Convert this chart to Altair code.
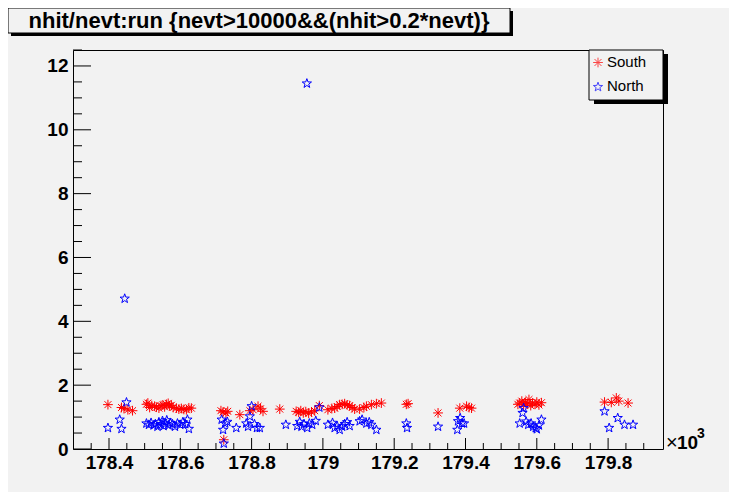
import altair as alt
import pandas as pd

# ---- data (run in units of 10^3, ratio nhit/nevt) ----
south_run = [178.397, 178.435, 178.442, 178.453, 178.466, 178.505, 178.509, 178.514, 178.520, 178.528,
             178.533, 178.540, 178.546, 178.551, 178.556, 178.561, 178.566, 178.570, 178.575, 178.580,
             178.589, 178.596, 178.603, 178.610, 178.617, 178.624, 178.631, 178.714, 178.720, 178.722,
             178.728, 178.733, 178.767, 178.795, 178.804, 178.818, 178.825, 178.832, 178.879, 178.925,
             178.932, 178.938, 178.945, 178.952, 178.960, 178.968, 178.977, 178.990, 179.014, 179.025,
             179.033, 179.040, 179.047, 179.054, 179.061, 179.068, 179.075, 179.082, 179.089, 179.103,
             179.115, 179.122, 179.136, 179.150, 179.164, 179.234, 179.239, 179.323, 179.384, 179.403,
             179.410, 179.417, 179.547, 179.552, 179.558, 179.563, 179.568, 179.573, 179.578, 179.583,
             179.588, 179.595, 179.600, 179.606, 179.613, 179.790, 179.809, 179.823, 179.830, 179.856]
south_ratio = [1.39, 1.30, 1.27, 1.23, 1.20, 1.40, 1.44, 1.30, 1.36, 1.34,
               1.31, 1.28, 1.36, 1.38, 1.32, 1.40, 1.43, 1.35, 1.37, 1.30,
               1.28, 1.25, 1.27, 1.24, 1.23, 1.29, 1.28, 1.20, 1.16, 0.29,
               1.13, 1.18, 1.075, 1.20, 1.23, 1.34, 1.26, 1.18, 1.25, 1.18,
               1.15, 1.20, 1.13, 1.17, 1.12, 1.16, 1.20, 1.36, 1.23, 1.27,
               1.28, 1.33, 1.39, 1.40, 1.42, 1.38, 1.36, 1.30, 1.25, 1.25,
               1.30, 1.34, 1.39, 1.42, 1.44, 1.40, 1.42, 1.13, 1.28, 1.34,
               1.30, 1.28, 1.40, 1.44, 1.50, 1.38, 1.46, 1.42, 1.55, 1.36,
               1.44, 1.40, 1.47, 1.38, 1.45, 1.47, 1.46, 1.60, 1.50, 1.44]

north_run = [178.397, 178.430, 178.435, 178.444, 178.449, 178.505, 178.512, 178.518, 178.525, 178.530,
             178.536, 178.540, 178.545, 178.550, 178.553, 178.558, 178.562, 178.567, 178.572, 178.578,
             178.585, 178.592, 178.600, 178.607, 178.614, 178.620, 178.624, 178.716, 178.720, 178.722,
             178.726, 178.732, 178.757, 178.785, 178.790, 178.795, 178.800, 178.808, 178.815, 178.823,
             178.896, 178.928, 178.935, 178.940, 178.947, 178.955, 178.956, 178.962, 178.970, 178.980,
             178.990, 179.014, 179.027, 179.033, 179.040, 179.047, 179.054, 179.061, 179.068, 179.075,
             179.103, 179.110, 179.122, 179.130, 179.136, 179.150, 179.234, 179.236, 179.323, 179.379,
             179.377, 179.385, 179.390, 179.396, 179.552, 179.560, 179.563, 179.570, 179.576, 179.584,
             179.590, 179.597, 179.600, 179.606, 179.613, 179.790, 179.803, 179.827, 179.846, 179.870]
north_ratio = [0.66, 0.92, 0.63, 4.71, 1.46, 0.80, 0.76, 0.82, 0.74, 0.78,
               0.70, 0.84, 0.76, 0.88, 0.72, 0.80, 0.90, 0.74, 0.82, 0.78,
               0.70, 0.80, 0.76, 0.84, 0.78, 0.92, 0.63, 0.92, 0.60, 0.17,
               0.80, 0.85, 0.66, 0.80, 0.70, 1.02, 1.34, 0.78, 0.66, 0.66,
               0.76, 0.72, 0.85, 0.70, 0.78, 11.45, 0.66, 0.80, 0.76, 0.88,
               1.30, 0.76, 0.82, 0.66, 0.72, 0.60, 0.70, 0.78, 0.84, 0.72,
               0.87, 0.92, 0.80, 0.84, 0.76, 0.60, 0.80, 0.66, 0.70, 0.87,
               0.60, 0.97, 0.80, 0.80, 0.80, 1.13, 1.28, 0.86, 0.76, 0.80,
               0.70, 0.66, 0.62, 0.74, 0.92, 1.18, 0.66, 0.97, 0.76, 0.76]

x_major = [178.4, 178.6, 178.8, 179.0, 179.2, 179.4, 179.6, 179.8]
x_minor = [178.35, 178.45, 178.5, 178.55, 178.65, 178.7, 178.75, 178.85, 178.9, 178.95,
           179.05, 179.1, 179.15, 179.25, 179.3, 179.35, 179.45, 179.5, 179.55,
           179.65, 179.7, 179.75, 179.85, 179.9]
y_major = [0, 2, 4, 6, 8, 10, 12]
y_minor = [0.5, 1, 1.5, 2.5, 3, 3.5, 4.5, 5, 5.5, 6.5, 7, 7.5, 8.5, 9, 9.5, 10.5, 11, 11.5, 12.5]

title_text = "nhit/nevt:run {nevt>10000&&(nhit>0.2*nevt)}"
series_names = ["South", "North"]
series_colors = ["#ff0000", "#0000ff"]

W, H = 590, 399
XDOM = [178.299, 179.954]
YDOM = [0, 12.5]

ASTER = "M-1,0L1,0M0,-1L0,1M-0.71,-0.71L0.71,0.71M-0.71,0.71L0.71,-0.71"
STAR = ("M0,-1L0.235,-0.324L0.951,-0.309L0.380,0.124L0.588,0.809L0,0.4"
        "L-0.588,0.809L-0.380,0.124L-0.951,-0.309L-0.235,-0.324Z")

LABEL_FONT = "Liberation Sans"

south = pd.DataFrame({"run": south_run, "ratio": south_ratio})
north = pd.DataFrame({"run": north_run, "ratio": north_ratio})

xscale = alt.Scale(domain=XDOM, nice=False, zero=False)
yscale = alt.Scale(domain=YDOM, nice=False, zero=False)

xaxis = alt.Axis(values=x_major, format=".4~g", title=None, grid=False, ticks=False, domain=False,
                 labelFont=LABEL_FONT, labelFontWeight="bold", labelFontSize=19, labelColor="black",
                 labelPadding=4, labelFlush=False, labelOverlap=False)
yaxis = alt.Axis(values=y_major, format="d", title=None, grid=False, ticks=False, domain=False,
                 labelFont=LABEL_FONT, labelFontWeight="bold", labelFontSize=19, labelColor="black",
                 labelPadding=5, labelFlush=False, labelOverlap=False)

pts_s = alt.Chart(south).mark_point(shape=ASTER, filled=False, strokeWidth=1, size=95,
                                    color=series_colors[0], opacity=1).encode(
    x=alt.X("run:Q", scale=xscale, axis=xaxis),
    y=alt.Y("ratio:Q", scale=yscale, axis=yaxis),
)
pts_n = alt.Chart(north).mark_point(shape=STAR, filled=False, strokeWidth=1, size=95,
                                    color=series_colors[1], opacity=1).encode(
    x=alt.X("run:Q", scale=xscale, axis=xaxis),
    y=alt.Y("ratio:Q", scale=yscale, axis=yaxis),
)

def xticks(vals, length):
    return alt.Chart(pd.DataFrame({"run": vals})).mark_rule(color="black", strokeWidth=1).encode(
        x=alt.X("run:Q", scale=xscale, axis=xaxis),
        y=alt.value(H), y2=alt.value(H - length))

def yticks(vals, length):
    return alt.Chart(pd.DataFrame({"ratio": vals})).mark_rule(color="black", strokeWidth=1).encode(
        y=alt.Y("ratio:Q", scale=yscale, axis=yaxis),
        x=alt.value(0), x2=alt.value(length))

one = pd.DataFrame({"a": [0]})

def box(x1, x2, y1, y2, fill, stroke=None):
    kw = dict(fill=fill)
    if stroke:
        kw.update(stroke=stroke, strokeWidth=1)
    else:
        kw.update(strokeWidth=0)
    return alt.Chart(one).mark_rect(**kw).encode(
        x=alt.value(x1), x2=alt.value(x2), y=alt.value(y1), y2=alt.value(y2))

def label(text, x, y, size, weight="normal", align="left", font=LABEL_FONT):
    return alt.Chart(one).mark_text(text=text, font=font, fontSize=size, fontWeight=weight,
                                    align=align, baseline="alphabetic", color="black").encode(
        x=alt.value(x), y=alt.value(y))

# title box (ROOT style, with shadow)
title_shadow = box(-62, 440, -39, -14, "black")
title_box = box(-65, 437, -42, -17, "#f2f2f2", "black")
title_lbl = label(title_text, 186, -22, 22, "bold", "center")

# legend box with shadow
leg_shadow = box(521, 595, 4, 54, "black")
leg_box = box(516, 590, 0, 50, "#f2f2f2", "black")
leg_s_mk = alt.Chart(one).mark_point(shape=ASTER, filled=False, strokeWidth=1, size=95,
                                     color=series_colors[0]).encode(x=alt.value(525), y=alt.value(12.5))
leg_n_mk = alt.Chart(one).mark_point(shape=STAR, filled=False, strokeWidth=1, size=95,
                                     color=series_colors[1]).encode(x=alt.value(525), y=alt.value(37))
leg_s_t = label(series_names[0], 534, 17, 15)
leg_n_t = label(series_names[1], 534, 41, 15)

# x10^3 exponent
exp1 = label("\u00d7", 593, 399, 20, "normal")
exp1b = label("10", 604, 399, 19, "bold")
exp2 = label("3", 624, 388, 14, "bold")

chart = alt.layer(
    xticks(x_major, 11), xticks(x_minor, 6), yticks(y_major, 18), yticks(y_minor, 9),
    pts_s, pts_n,
    title_shadow, title_box, title_lbl,
    leg_shadow, leg_box, leg_s_mk, leg_n_mk, leg_s_t, leg_n_t,
    exp1, exp1b, exp2,
).properties(
    width=W, height=H,
    autosize=alt.AutoSizeParams(type="none"),
    padding={"left": 65, "top": 42, "right": 66, "bottom": 43},
    background="#f2f2f2",
).configure_view(
    fill="#f2f2f2", stroke="black", strokeWidth=1,
)

chart.save("out.html", embed_options={"renderer": "svg", "actions": False})
